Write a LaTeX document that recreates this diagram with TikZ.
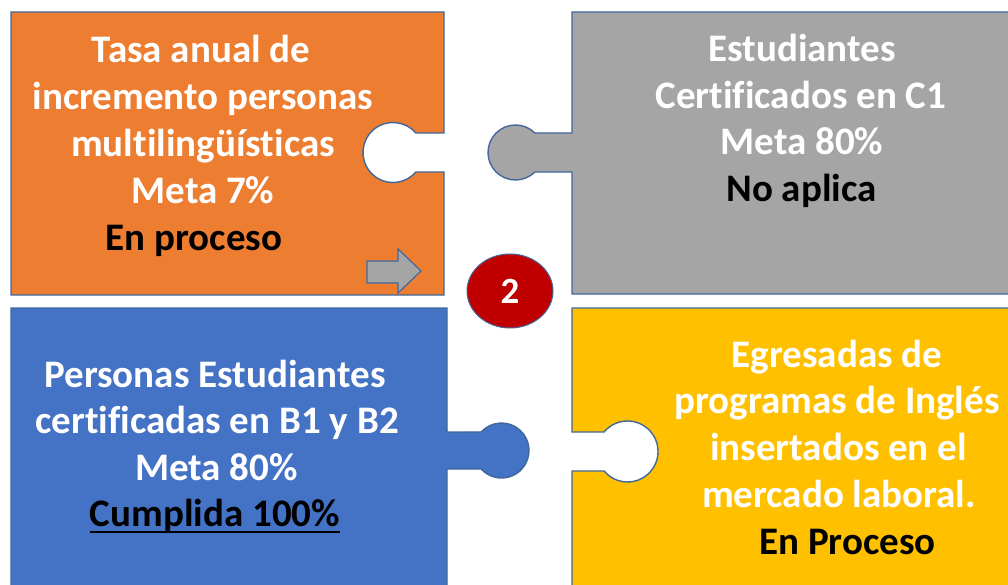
\documentclass[tikz,border=0pt]{standalone}
\usepackage{fontspec}
\setmainfont{Carlito}[Ligatures=NoCommon]
\usetikzlibrary{calc,shapes.geometric}
\definecolor{orng}{HTML}{ED7D31}
\definecolor{gry}{HTML}{A5A5A5}
\definecolor{blu}{HTML}{4472C4}
\definecolor{yel}{HTML}{FFC000}
\definecolor{redd}{HTML}{C00000}
\definecolor{edge}{HTML}{41689C}
\begin{document}
\begin{tikzpicture}[x=1pt,y=-1pt,
  piece/.style={draw=edge,line width=1.4pt,line join=miter},
  tx/.style={anchor=base,inner sep=0pt,font=\bfseries\fontsize{39}{47}\selectfont,text=white},
  st/.style={tx,text=black}]
\useasboundingbox[fill=white] (0,0) rectangle (1008,585);
% orange piece with hole
\path[piece,fill=orng] (11,12) -- (444,12) -- (444,133)
  -- ($(393,152.5)+(-40.5:30)$) arc[start angle=-40.5,end angle=-319.5,radius=30]
  -- (444,172) -- (444,295) -- (11,295) -- cycle;
% gray piece with tab
\path[piece,fill=gry] (1014,12) -- (572,12) -- (572,133)
  -- ($(515.5,152.5)+(-45.2:27.5)$) arc[start angle=-45.2,end angle=-314.8,radius=27.5]
  -- (572,172) -- (572,294) -- (1014,294) -- cycle;
% blue piece with tab
\path[piece,fill=blu] (11,308) -- (447,308) -- (447,432)
  -- ($(501.5,450.5)+(222.3:27.5)$) arc[start angle=222.3,end angle=497.7,radius=27.5]
  -- (447,469) -- (447,592) -- (11,592) -- cycle;
% yellow piece with hole
\path[piece,fill=yel] (1014,308) -- (572,308) -- (572,432)
  -- ($(627.5,451.5)+(219.7:30.5)$) arc[start angle=219.7,end angle=500.3,radius=30.5]
  -- (572,471) -- (572,592) -- (1014,592) -- cycle;
% arrow
\path[draw=edge,line width=1.2pt,fill=gry] (367,261) -- (398,261) -- (398,249) -- (421,271)
  -- (398,293) -- (398,283) -- (367,283) -- cycle;
% number badge
\node[ellipse,draw=edge,line width=1pt,fill=redd,minimum width=86pt,minimum height=74pt,inner sep=0pt,
  text=white,font=\bfseries\fontsize{37}{42}\selectfont] (badge) at (510,291) {2};
% orange text
\node[tx] (o1) at (201,63) {Tasa anual de};
\node[tx] (o2) at (203,110) {incremento personas};
\node[tx] (o3) at (203,157) {multilingüísticas};
\node[tx] (o4) at (203,203.5) {Meta 7\%};
\node[st] (o5) at (194,250) {En proceso};
% gray text
\node[tx] (g1) at (802,62) {Estudiantes};
\node[tx] (g2) at (801,108.5) {Certificados en C1};
\node[tx] (g3) at (802,155) {Meta 80\%};
\node[st] (g4) at (801.5,202) {No aplica};
% blue text
\node[tx] (b1) at (215,387) {Personas Estudiantes};
\node[tx] (b2) at (217,433) {certificadas en B1 y B2};
\node[tx] (b3) at (216.5,480) {Meta 80\%};
\node[st] (b4) at (215,526) {Cumplida 100\%};
\draw[line width=2.4pt] ([yshift=-6pt]b4.base west) -- ([yshift=-6pt]b4.base east);
% yellow text
\node[tx] (y1) at (837,367) {Egresadas de};
\node[tx] (y2) at (837,413) {programas de Inglés};
\node[tx] (y3) at (838.5,460) {insertados en el};
\node[tx] (y4) at (839,507) {mercado laboral.};
\node[st] (y5) at (847.5,554) {En Proceso};
\end{tikzpicture}
\end{document}
